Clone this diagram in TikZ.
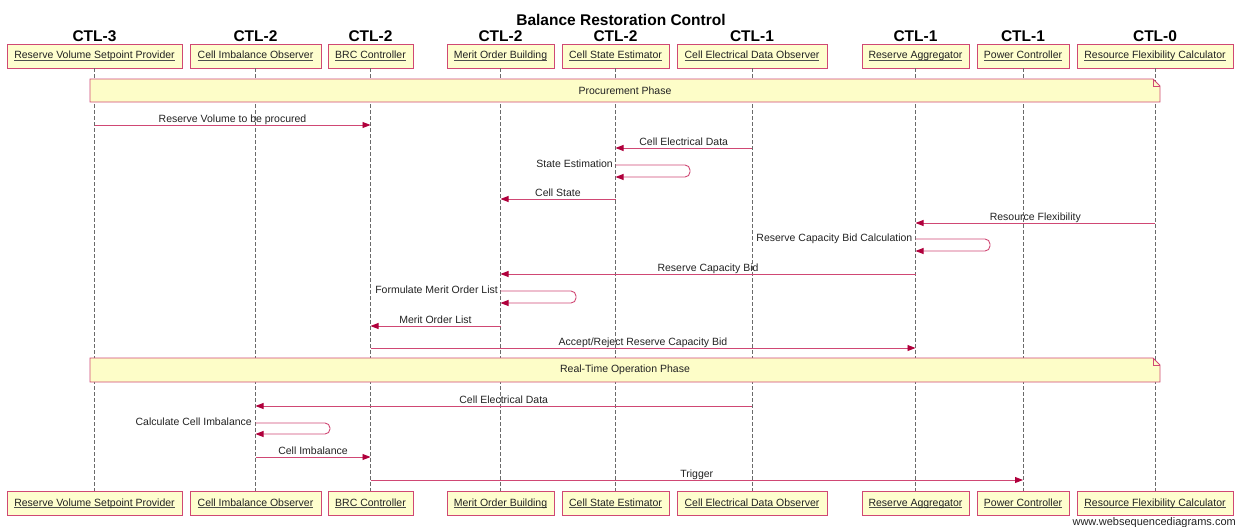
\documentclass[tikz,border=0pt]{standalone}
\usepackage{fontspec}
\setmainfont{Liberation Sans}
\usetikzlibrary{arrows.meta}
\definecolor{wsdline}{RGB}{208,72,116}
\definecolor{wsdhead}{HTML}{B0003C}
\definecolor{wsdfill}{HTML}{FEFECE}
\definecolor{wsdnote}{HTML}{FDFDC8}
\definecolor{wsdtext}{HTML}{222222}
\definecolor{wsdlife}{HTML}{6A6A6A}
\newcommand\wsdul[1]{\setbox0\hbox{#1}\rlap{\color{wsdtext!80}\rule[-1.6pt]{\wd0}{0.6pt}}\box0}
\begin{document}
\begin{tikzpicture}[x=1pt,y=-1pt,
  part/.style={draw=wsdline, fill=wsdfill, line width=0.9pt, minimum height=24pt, inner sep=0pt,
    text height=7.6pt, text depth=1.6pt,
    font=\fontsize{10.5}{12}\selectfont, text=wsdtext},
  ctl/.style={font=\bfseries\fontsize{15.5}{18}\selectfont, anchor=base, inner sep=0pt},
  life/.style={wsdlife, line width=0.9pt, dash pattern=on 4pt off 2pt},
  msg/.style={wsdline, line width=0.9pt, -{Triangle[length=8pt,width=6pt,color=wsdhead]}},
  selfmsg/.style={msg, rounded corners=5pt},
  lbl/.style={font=\fontsize{10.5}{12}\selectfont, text=wsdtext, inner sep=0pt},
  mlbl/.style={lbl, anchor=base, yshift=3pt},
  slbl/.style={lbl, anchor=base east, yshift=-2.5pt},
  notebg/.style={draw=wsdline, fill=wsdnote, line width=0.9pt, line join=miter},
  notetxt/.style={lbl},
  ]
\useasboundingbox (0,0) rectangle (1236,527);

% title
\node[ctl] (title) at (621,26) {Balance Restoration Control};

% top participants
\node[part, minimum width=175pt] (t1) at (94.5,56) {\wsdul{Reserve Volume Setpoint Provider}};
\node[part, minimum width=131pt] (t2) at (255.5,56) {\wsdul{Cell Imbalance Observer}};
\node[part, minimum width=85pt]  (t3) at (370.5,56) {\wsdul{BRC Controller}};
\node[part, minimum width=107pt] (t4) at (500.5,56) {\wsdul{Merit Order Building}};
\node[part, minimum width=107pt] (t5) at (615.5,56) {\wsdul{Cell State Estimator}};
\node[part, minimum width=150pt] (t6) at (752,56) {\wsdul{Cell Electrical Data Observer}};
\node[part, minimum width=107pt] (t7) at (915.5,56) {\wsdul{Reserve Aggregator}};
\node[part, minimum width=92pt]  (t8) at (1023,56) {\wsdul{Power Controller}};
\node[part, minimum width=156pt] (t9) at (1155,56) {\wsdul{Resource Flexibility Calculator}};

% CTL labels
\node[ctl] (c1) at (94.5,42) {CTL-3};
\node[ctl] (c2) at (255.5,42) {CTL-2};
\node[ctl] (c3) at (370.5,42) {CTL-2};
\node[ctl] (c4) at (500.5,42) {CTL-2};
\node[ctl] (c5) at (615.5,42) {CTL-2};
\node[ctl] (c6) at (752,42) {CTL-1};
\node[ctl] (c7) at (915.5,42) {CTL-1};
\node[ctl] (c8) at (1023,42) {CTL-1};
\node[ctl] (c9) at (1155,42) {CTL-0};

% bottom participants
\node[part, minimum width=175pt] (b1) at (94.5,503) {\wsdul{Reserve Volume Setpoint Provider}};
\node[part, minimum width=131pt] (b2) at (255.5,503) {\wsdul{Cell Imbalance Observer}};
\node[part, minimum width=85pt]  (b3) at (370.5,503) {\wsdul{BRC Controller}};
\node[part, minimum width=107pt] (b4) at (500.5,503) {\wsdul{Merit Order Building}};
\node[part, minimum width=107pt] (b5) at (615.5,503) {\wsdul{Cell State Estimator}};
\node[part, minimum width=150pt] (b6) at (752,503) {\wsdul{Cell Electrical Data Observer}};
\node[part, minimum width=107pt] (b7) at (915.5,503) {\wsdul{Reserve Aggregator}};
\node[part, minimum width=92pt]  (b8) at (1023,503) {\wsdul{Power Controller}};
\node[part, minimum width=156pt] (b9) at (1155,503) {\wsdul{Resource Flexibility Calculator}};

% lifelines
\foreach \i in {1,...,9}{\draw[life] (t\i.south) -- (b\i.north);}

% note: Procurement Phase
\path[notebg] (90,79) -- (1153,79) -- (1160,86) -- (1160,102) -- (90,102) -- cycle;
\draw[wsdline, line width=0.9pt] (1153,79) -- (1153,86) -- (1160,86);
\node[notetxt] (n1) at (625,90.5) {Procurement Phase};

% procurement messages
\draw[msg] (t1 |- 0,125) -- node[mlbl] (m1) {Reserve Volume to be procured} (t3 |- 0,125);
\draw[msg] (t6 |- 0,148) -- node[mlbl] (m2) {Cell Electrical Data} (t5 |- 0,148);
\draw[selfmsg] (t5 |- 0,165) -| (690,177) -- (t5 |- 0,177);
\node[slbl] (m3) at (613,165) {State Estimation};
\draw[msg] (t5 |- 0,199) -- node[mlbl] (m4) {Cell State} (t4 |- 0,199);
\draw[msg] (t9 |- 0,223) -- node[mlbl] (m5) {Resource Flexibility} (t7 |- 0,223);
\draw[selfmsg] (t7 |- 0,239) -| (990,251) -- (t7 |- 0,251);
\node[slbl] (m6) at (912.5,239) {Reserve Capacity Bid Calculation};
\draw[msg] (t7 |- 0,274) -- node[mlbl] (m7) {Reserve Capacity Bid} (t4 |- 0,274);
\draw[selfmsg] (t4 |- 0,291) -| (576,303) -- (t4 |- 0,303);
\node[slbl] (m8) at (498,291) {Formulate Merit Order List};
\draw[msg] (t4 |- 0,326) -- node[mlbl] (m9) {Merit Order List} (t3 |- 0,326);
\draw[msg] (t3 |- 0,348) -- node[mlbl] (m10) {Accept/Reject Reserve Capacity Bid} (t7 |- 0,348);

% note: Real-Time Operation Phase
\path[notebg] (90,358) -- (1153,358) -- (1160,365) -- (1160,382) -- (90,382) -- cycle;
\draw[wsdline, line width=0.9pt] (1153,358) -- (1153,365) -- (1160,365);
\node[notetxt] (n2) at (625,370) {Real-Time Operation Phase};

% real-time messages
\draw[msg] (t6 |- 0,406) -- node[mlbl] (m11) {Cell Electrical Data} (t2 |- 0,406);
\draw[selfmsg] (t2 |- 0,423) -| (330,434) -- (t2 |- 0,434);
\node[slbl] (m12) at (252,423) {Calculate Cell Imbalance};
\draw[msg] (t2 |- 0,457) -- node[mlbl] (m13) {Cell Imbalance} (t3 |- 0,457);
\draw[msg] (t3 |- 0,480) -- node[mlbl] (m14) {Trigger} (t8 |- 0,480);

% watermark
\node[lbl, anchor=base east, font=\fontsize{11}{13}\selectfont] (wm) at (1236,525) {www.websequencediagrams.com};
\end{tikzpicture}
\end{document}
